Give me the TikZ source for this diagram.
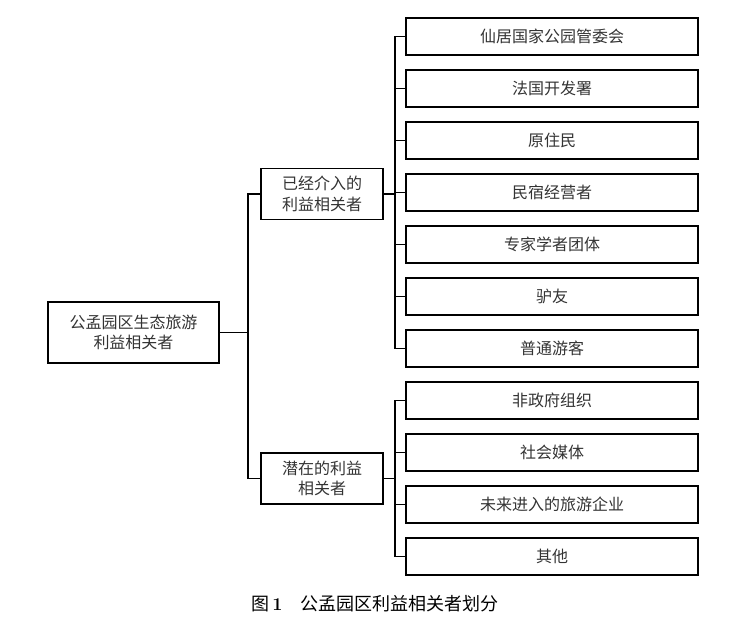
\documentclass[tikz,border=0pt]{standalone}
\usepackage{fontspec}
\newfontfamily\cjk{Noto Sans CJK SC}
\tikzset{stake/.style={draw, align=center, text=black!80, inner sep=2pt, font=\cjk\fontsize{16}{20.5}\selectfont}}
\tikzset{group/.style={stake, minimum width=122pt, minimum height=51pt}}
\tikzset{leaf/.style={stake, minimum width=292pt, minimum height=37pt}}

\begin{document}
\begin{tikzpicture}[x=1pt,y=-1pt,line width=1.3pt,line cap=rect]
    \useasboundingbox (0,0) rectangle (734,641);
    \node[stake, minimum width=171pt, minimum height=61pt] at (133.5,332.5) (root) {公孟园区生态旅游\\利益相关者};
    \node[group] at (322,194)   (inv) {已经介入的\\利益相关者};
    \node[group] at (322,478.5) (pot) {潜在的利益\\相关者};
    \node[leaf] at (552,36.5)  (xj)  {仙居国家公园管委会};
    \node[leaf] at (552,88.5)  (fg)  {法国开发署};
    \node[leaf] at (552,140.5) (yzm) {原住民};
    \node[leaf] at (552,192.5) (ms)  {民宿经营者};
    \node[leaf] at (552,244.5) (zj)  {专家学者团体};
    \node[leaf] at (552,296.5) (ly)  {驴友};
    \node[leaf] at (552,348.5) (yk)  {普通游客};
    \node[leaf] at (552,400.5) (ngo) {非政府组织};
    \node[leaf] at (552,452.5) (mt)  {社会媒体};
    \node[leaf] at (552,504.5) (qy)  {未来进入的旅游企业};
    \node[leaf] at (552,556.5) (qt)  {其他};
    \node at (375,604) (cap) {\cjk\fontsize{18}{20}\selectfont 图\,{\rmfamily\bfseries 1}\quad 公孟园区利益相关者划分};

    \coordinate (j0) at (248,332.5);
    \coordinate (j1) at (395,194);
    \coordinate (j2) at (395,478.5);

    \draw (root) -- (j0);
    \draw (j0) |- (inv);
    \draw (j0) |- (pot);
    \draw (inv) -- (j1);
    \draw (j1) |- (xj);
    \draw (j1) |- (fg);
    \draw (j1) |- (yzm);
    \draw (j1) |- (ms);
    \draw (j1) |- (zj);
    \draw (j1) |- (ly);
    \draw (j1) |- (yk);
    \draw (pot) -- (j2);
    \draw (j2) |- (ngo);
    \draw (j2) |- (mt);
    \draw (j2) |- (qy);
    \draw (j2) |- (qt);
\end{tikzpicture}
\end{document}
